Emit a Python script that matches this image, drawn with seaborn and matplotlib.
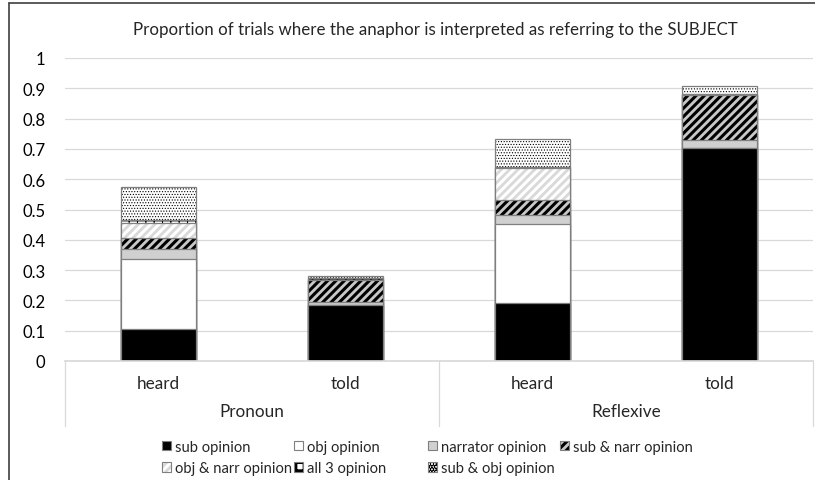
import numpy as np
import pandas as pd
import matplotlib.pyplot as plt
import seaborn as sns
from matplotlib.patches import Patch
from matplotlib.lines import Line2D

# data
bars = ['Pronoun heard', 'Pronoun told', 'Reflexive heard', 'Reflexive told']
verbs = ['heard', 'told', 'heard', 'told']
groups = ['Pronoun', 'Reflexive']
sub_opinion = [0.105, 0.184, 0.193, 0.702]
obj_opinion = [0.231, 0.000, 0.258, 0.000]
narrator_opinion = [0.033, 0.012, 0.031, 0.026]
sub_narr_opinion = [0.036, 0.070, 0.049, 0.149]
obj_narr_opinion = [0.052, 0.000, 0.105, 0.000]
all3_opinion = [0.008, 0.008, 0.003, 0.003]
sub_obj_opinion = [0.110, 0.008, 0.095, 0.026]
series_names = ['sub opinion', 'obj opinion', 'narrator opinion', 'sub & narr opinion',
                'obj & narr opinion', 'all 3 opinion', 'sub & obj opinion']
yticks = [0, 0.1, 0.2, 0.3, 0.4, 0.5, 0.6, 0.7, 0.8, 0.9, 1]

# fill, hatch, hatch colour, hatch linewidth per series
styles = [
    ('black', '', 'black', 1.0),
    ('white', '', 'white', 1.0),
    ('#d0d0d0', '', '#d0d0d0', 1.0),
    ('#c8c8c8', '////', 'black', 2.2),
    ('#d9d9d9', '////', 'white', 2.2),
    ('white', '++', 'black', 0.8),
    ('white', '......', 'black', 0.5),
]
outline = '#7f7f7f'

sns.set_theme(style='white')
plt.rcParams['font.family'] = ['Lato', 'DejaVu Sans']
plt.rcParams['hatch.linewidth'] = 2.2

df = pd.DataFrame({'bar': bars})
series = [sub_opinion, obj_opinion, narrator_opinion, sub_narr_opinion,
          obj_narr_opinion, all3_opinion, sub_obj_opinion]
cum = np.cumsum(np.array(series), axis=0)
for i, name in enumerate(series_names):
    df[name] = cum[i]


def set_hatch_lw(patches, lw):
    for p in patches:
        if hasattr(p, 'set_hatch_linewidth'):
            p.set_hatch_linewidth(lw)


fig = plt.figure(figsize=(8.15, 4.81), dpi=100)
ax = fig.add_axes([65 / 815, 1 - 362 / 481, 748 / 815, 303 / 481])

# draw cumulative totals from the top segment down so each lower one covers the rest
for i in range(len(series_names) - 1, -1, -1):
    fc, hatch, hc, hlw = styles[i]
    n0 = len(ax.patches)
    sns.barplot(data=df, x='bar', y=series_names[i], order=bars, color=fc, saturation=1,
                width=0.4, errorbar=None, hatch=hatch, edgecolor=hc, linewidth=0, ax=ax)
    set_hatch_lw(ax.patches[n0:], hlw)
    sns.barplot(data=df, x='bar', y=series_names[i], order=bars, color=outline, fill=False,
                width=0.4, errorbar=None, linewidth=0.9, ax=ax)

ax.set_xlim(-0.5, 3.5)
ax.set_ylim(0, 1)
ax.set_yticks(yticks)
ax.set_yticklabels(['{:g}'.format(t) for t in yticks])
ax.set_xticks([])
ax.set_xlabel('')
ax.set_ylabel('')
ax.grid(axis='y', color='#d9d9d9', linewidth=0.9)
ax.set_axisbelow(True)
for s in ['top', 'right', 'left']:
    ax.spines[s].set_visible(False)
ax.spines['bottom'].set_color('#d9d9d9')
ax.tick_params(axis='y', length=0, pad=14, labelsize=12, labelcolor='black')

# two level category axis
trans = ax.get_xaxis_transform()
for x in [-0.5, 1.5, 3.5]:
    ax.plot([x, x], [0, -0.215], transform=trans, color='#d9d9d9', lw=0.9, clip_on=False)
for i, v in enumerate(verbs):
    ax.text(i, -0.072, v, transform=trans, ha='center', va='center', fontsize=12.3)
for j, g in enumerate(groups):
    ax.text(2 * j + 0.5, -0.166, g, transform=trans, ha='center', va='center', fontsize=12.3)

fig.text(435 / 815, 1 - 30 / 481,
         'Proportion of trials where the anaphor is interpreted as referring to the SUBJECT',
         ha='center', va='center', fontsize=12.2)

# chart frame
fig.add_artist(Line2D([9 / 815, 9 / 815], [0, 1 - 4 / 481], color='#404040', lw=1.2))
fig.add_artist(Line2D([9 / 815, 1], [1 - 4 / 481, 1 - 4 / 481], color='#404040', lw=1.2))

# legend: excel style, equal width columns filled row-wise
handles = []
for fc, hatch, hc, hlw in styles:
    hp = Patch(facecolor=fc, hatch=hatch, edgecolor=hc, linewidth=0)
    set_hatch_lw([hp], min(hlw, 1.0))
    handles.append((hp, Patch(facecolor='none', edgecolor=outline, linewidth=0.8)))
columns = [[0, 4], [1, 5], [2, 6], [3]]
col_x = [162, 294, 428, 560]
for cx, col in zip(col_x, columns):
    leg = fig.legend([handles[k] for k in col], [series_names[k] for k in col],
                     loc='upper left', bbox_to_anchor=(cx / 815, 1 - 441 / 481), ncol=1,
                     frameon=False, fontsize=10.6, handlelength=0.6, handleheight=0.6,
                     handletextpad=0.3, borderpad=0, borderaxespad=0, labelspacing=0.5)

fig.savefig('out.png', dpi=100)
